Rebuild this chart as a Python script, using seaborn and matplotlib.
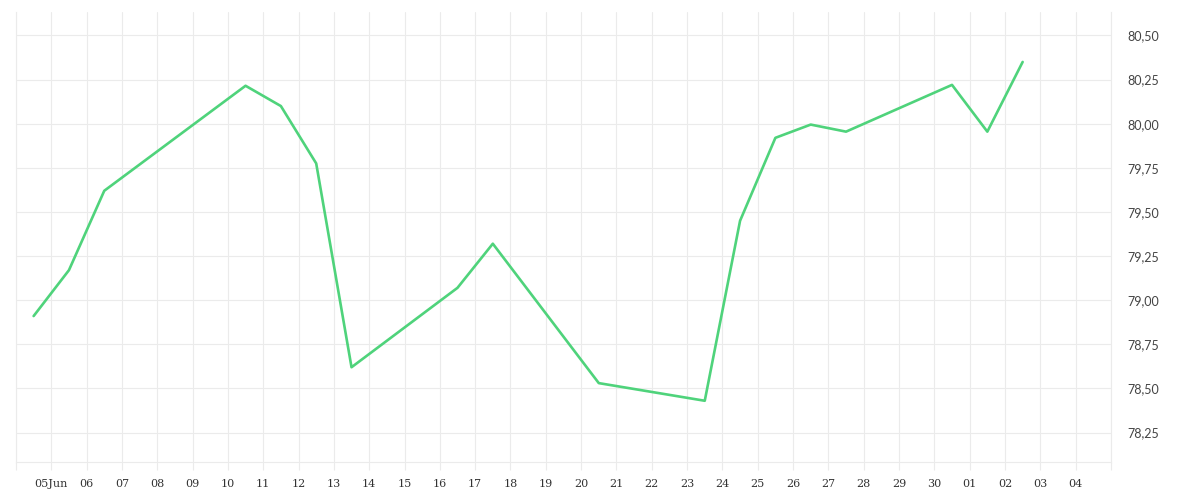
import pandas as pd
import matplotlib
matplotlib.use("Agg")
import matplotlib.pyplot as plt
import seaborn as sns

# data (dates at midday)
dates = ["2019-06-04", "2019-06-05", "2019-06-06", "2019-06-10", "2019-06-11",
         "2019-06-12", "2019-06-13", "2019-06-16", "2019-06-17", "2019-06-20",
         "2019-06-23", "2019-06-24", "2019-06-25", "2019-06-26", "2019-06-27",
         "2019-06-30", "2019-07-01", "2019-07-02"]
values = [78.91, 79.17, 79.62, 80.215, 80.10, 79.775, 78.62, 79.07, 79.32,
          78.53, 78.43, 79.45, 79.92, 79.995, 79.955, 80.22, 79.955, 80.35]

tick_days = pd.date_range("2019-06-04", "2019-07-05", freq="D")
tick_labels = ["", "05Jun", "06", "07", "08", "09", "10", "11", "12", "13", "14",
               "15", "16", "17", "18", "19", "20", "21", "22", "23", "24", "25",
               "26", "27", "28", "29", "30", "01", "02", "03", "04", ""]
y_ticks = [78.25, 78.50, 78.75, 79.00, 79.25, 79.50, 79.75, 80.00, 80.25, 80.50]

df = pd.DataFrame({"date": pd.to_datetime(dates) + pd.Timedelta(hours=12),
                   "value": values})

sns.set_theme(style="white")
grid_col = "#ebebeb"

fig = plt.figure(figsize=(12, 5), dpi=100)
ax = fig.add_axes([0.0133, 0.076, 0.9125, 0.9])

sns.lineplot(data=df, x="date", y="value", ax=ax, color="#4fd37b", linewidth=1.9)

ax.set_xlim(tick_days[0], tick_days[-1])
ax.set_ylim(78.083, 80.633)
ax.set_xticks(tick_days)
ax.set_xticklabels(tick_labels, family="DejaVu Serif", fontsize=8, color="#333333")
ax.set_yticks(y_ticks)
ax.set_yticklabels([f"{v:.2f}".replace(".", ",") for v in y_ticks],
                   family="Lato", fontsize=9, color="#444444")
ax.yaxis.tick_right()
ax.set_xlabel("")
ax.set_ylabel("")

ax.grid(True, color=grid_col, linewidth=0.8)
ax.tick_params(axis="x", length=6, width=0.8, color=grid_col, pad=6, bottom=True)
ax.tick_params(axis="y", length=0, pad=12)

for side in ["left", "right", "bottom"]:
    ax.spines[side].set_color(grid_col)
    ax.spines[side].set_linewidth(0.8)
ax.spines["top"].set_visible(False)

fig.savefig("out.png", dpi=100)
